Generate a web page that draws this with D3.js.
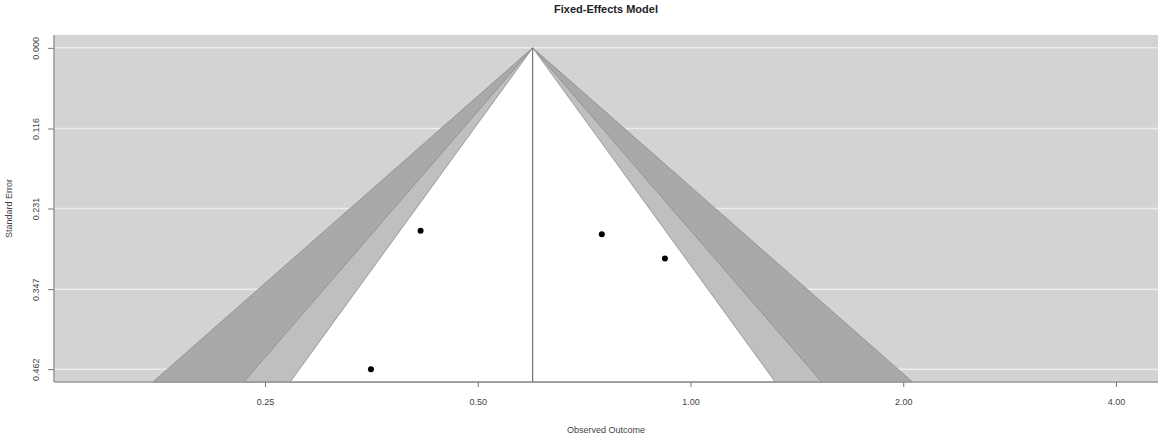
<!DOCTYPE html>
<meta charset="utf-8">
<style>
body { margin: 0; background: #fff; }
text { font-family: "Liberation Sans", Arial, sans-serif; fill: #333; }
</style>
<body>
<svg></svg>
</body>
<script src="https://cdn.jsdelivr.net/npm/d3@7"></script>
<script>

// study estimates (observed outcome, back-transformed) and standard errors
var yi = [0.415, 0.749, 0.920, 0.353];
var sei = [0.263, 0.268, 0.303, 0.462];
var estimate = 0.598;            // fixed-effects pooled estimate
var levels = [0.99, 0.95, 0.90]; // contour levels
var shades = ["#a9a9a9", "#bfbfbf", "#ffffff"];
var xTicks = [0.25, 0.5, 1, 2, 4];
var yTicks = [0, 0.116, 0.231, 0.347, 0.462];

var width = 1173, height = 435;
var svg = d3.select("svg").attr("width", width).attr("height", height);

var x = d3.scaleLog().domain([0.1257, 4.587]).range([54, 1158]);
var y = d3.scaleLinear().domain([-0.0185, 0.4805]).range([35, 382]);

var pLeft = x.range()[0], pRight = x.range()[1],
    pTop = y.range()[0], pBottom = y.range()[1];

// background
svg.append("rect")
    .attr("x", pLeft).attr("y", pTop)
    .attr("width", pRight - pLeft).attr("height", pBottom - pTop)
    .attr("fill", "#d3d3d3");

// white horizontal lines
svg.append("g").selectAll("line")
    .data(yTicks)
  .enter().append("line")
    .attr("x1", pLeft).attr("x2", pRight)
    .attr("y1", function(d) { return y(d); })
    .attr("y2", function(d) { return y(d); })
    .attr("stroke", "#ececec")
    .attr("stroke-width", 1.5);

// inverse normal (Acklam approximation)
function normInv(p) {
  var a = [-39.69683028665376, 220.9460984245205, -275.9285104469687, 138.3577518672690, -30.66479806614716, 2.506628277459239];
  var b = [-54.47609879822406, 161.5858589980802, -155.6989798598866, 66.80131188771972, -13.28068155288572];
  var c = [-0.007784894002430293, -0.3223964580411365, -2.400758277161838, -2.549732539343734, 4.374664141464968, 2.938163982698783];
  var d = [0.007784695709041462, 0.3224671290700398, 2.445134137142996, 3.754408661907416];
  var q, r;
  if (p > 0.97575) {
    q = Math.sqrt(-2 * Math.log(1 - p));
    return -(((((c[0]*q+c[1])*q+c[2])*q+c[3])*q+c[4])*q+c[5]) / ((((d[0]*q+d[1])*q+d[2])*q+d[3])*q+1);
  }
  q = p - 0.5; r = q * q;
  return (((((a[0]*r+a[1])*r+a[2])*r+a[3])*r+a[4])*r+a[5])*q / (((((b[0]*r+b[1])*r+b[2])*r+b[3])*r+b[4])*r+1);
}

// contour regions
var seMax = y.domain()[1];
var lnEst = Math.log(estimate);
svg.append("g").selectAll("path")
    .data(levels)
  .enter().append("path")
    .attr("d", function(p) {
      var zz = normInv(1 - (1 - p) / 2);
      var pts = [
        [x(Math.exp(lnEst - zz * seMax)), y(seMax)],
        [x(estimate), y(0)],
        [x(Math.exp(lnEst + zz * seMax)), y(seMax)]
      ];
      return d3.line()(pts) + "Z";
    })
    .attr("fill", function(p, i) { return shades[i]; })
    .attr("stroke", "#8a8a8a")
    .attr("stroke-width", 0.8);

// reference line at estimate
svg.append("line")
    .attr("x1", x(estimate)).attr("x2", x(estimate))
    .attr("y1", y(0)).attr("y2", pBottom)
    .attr("stroke", "#555")
    .attr("stroke-width", 1);

// points
svg.append("g").selectAll("circle")
    .data(yi)
  .enter().append("circle")
    .attr("cx", function(d) { return x(d); })
    .attr("cy", function(d, i) { return y(sei[i]); })
    .attr("r", 3)
    .attr("fill", "#000");

// axes
var xAxis = d3.axisBottom(x).tickValues(xTicks).tickSize(5).tickPadding(12)
    .tickFormat(d3.format(".2f"));
var gx = svg.append("g").attr("transform", "translate(0," + pBottom + ")").call(xAxis);
gx.select(".domain").attr("d", "M" + pLeft + ",0H" + pRight).attr("stroke", "#999").attr("stroke-width", 1.5);
gx.selectAll(".tick line").attr("stroke", "#777");
gx.selectAll(".tick text").style("font-size", "9px").style("fill", "#444");

var yAxis = d3.axisLeft(y).tickValues(yTicks).tickSize(6).tickFormat(d3.format(".3f"));
var gy = svg.append("g").attr("transform", "translate(" + pLeft + ",0)").call(yAxis);
gy.select(".domain").attr("d", "M0," + pTop + "V" + pBottom).attr("stroke", "#999").attr("stroke-width", 1.5);
gy.selectAll(".tick line").attr("stroke", "#777");
gy.selectAll(".tick text")
    .style("font-size", "9px").style("fill", "#444")
    .attr("text-anchor", "middle")
    .attr("x", null).attr("dy", null)
    .attr("transform", "translate(-18,0) rotate(-90)")
    .attr("y", 3);

// titles
svg.append("text")
    .attr("x", (pLeft + pRight) / 2).attr("y", 13)
    .attr("text-anchor", "middle")
    .style("font-size", "11px").style("font-weight", "bold").style("fill", "#222")
    .text("Fixed-Effects Model");

svg.append("text")
    .attr("x", (pLeft + pRight) / 2).attr("y", 433)
    .attr("text-anchor", "middle")
    .style("font-size", "9px").style("fill", "#444")
    .text("Observed Outcome");

svg.append("text")
    .attr("transform", "translate(12," + ((pTop + pBottom) / 2) + ") rotate(-90)")
    .attr("text-anchor", "middle")
    .style("font-size", "9px").style("fill", "#444")
    .text("Standard Error");

</script>
